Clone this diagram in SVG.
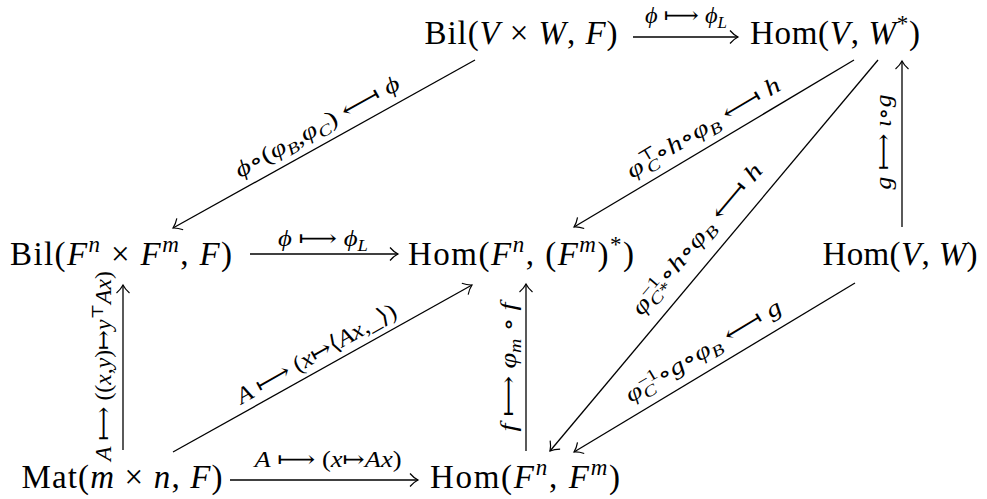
<svg xmlns="http://www.w3.org/2000/svg" width="987" height="499" viewBox="0 0 987 499">
<style>
.n{font-family:"Liberation Serif",serif;font-size:33px;fill:#000;text-anchor:middle}
.l{font-family:"Liberation Serif",serif;font-size:23px;fill:#000;text-anchor:middle}
.y{font-family:"DejaVu Serif","DejaVu Sans",serif;font-style:normal}
.i{font-style:italic}
.s{font-size:23px}
.ss{font-size:16px}
.c line{stroke:#000;stroke-width:1.3;fill:none;marker-end:url(#ah)}
</style>
<defs>
<marker id="ah" markerUnits="userSpaceOnUse" viewBox="-10 -9 12 18" refX="0" refY="0" markerWidth="12" markerHeight="18" orient="auto">
<path d="M-8,-6.5 C-5,-3 -2,-1 0,0 C-2,1 -5,3 -8,6.5" fill="none" stroke="#000" stroke-width="1.2"/>
</marker>
</defs>
<rect width="987" height="499" fill="#fff"/>
<g id="bilVW"><text class="n" x="521" y="44" textLength="193" lengthAdjust="spacing">Bil(<tspan class="i">V</tspan> × <tspan class="i">W</tspan>, <tspan class="i">F</tspan>)</text></g>
<g id="homVWstar"><text class="n" x="835" y="44" textLength="170" lengthAdjust="spacing">Hom(<tspan class="i">V</tspan>, <tspan class="i">W</tspan><tspan class="s" dy="-13">*</tspan><tspan dy="13">)</tspan></text></g>
<g id="bilFnFm"><text class="n" x="121" y="265" textLength="222" lengthAdjust="spacing">Bil(<tspan class="i">F</tspan><tspan class="s i" dy="-13">n</tspan><tspan dy="13"> × </tspan><tspan class="i">F</tspan><tspan class="s i" dy="-13">m</tspan><tspan dy="13">, </tspan><tspan class="i">F</tspan>)</text></g>
<g id="homFnFmstar"><text class="n" x="521" y="265" textLength="226" lengthAdjust="spacing">Hom(<tspan class="i">F</tspan><tspan class="s i" dy="-13">n</tspan><tspan dy="13">, (</tspan><tspan class="i">F</tspan><tspan class="s i" dy="-13">m</tspan><tspan dy="13">)</tspan><tspan class="s" dy="-13">*</tspan><tspan dy="13">)</tspan></text></g>
<g id="homVW"><text class="n" x="900" y="265" textLength="155" lengthAdjust="spacing">Hom(<tspan class="i">V</tspan>, <tspan class="i">W</tspan>)</text></g>
<g id="mat"><text class="n" x="122" y="488" textLength="201" lengthAdjust="spacing">Mat(<tspan class="i">m</tspan> × <tspan class="i">n</tspan>, <tspan class="i">F</tspan>)</text></g>
<g id="homFnFm"><text class="n" x="525" y="488" textLength="190" lengthAdjust="spacing">Hom(<tspan class="i">F</tspan><tspan class="s i" dy="-13">n</tspan><tspan dy="13">, </tspan><tspan class="i">F</tspan><tspan class="s i" dy="-13">m</tspan><tspan dy="13">)</tspan></text></g>
<g id="connectors" class="c">
<line x1="633" y1="37" x2="738" y2="37"/>
<line x1="475" y1="60" x2="173" y2="228"/>
<line x1="854" y1="60" x2="574" y2="227"/>
<line x1="878" y1="60" x2="550" y2="451"/>
<line x1="902" y1="227" x2="902" y2="61"/>
<line x1="250" y1="254" x2="398" y2="254"/>
<line x1="855" y1="283" x2="574" y2="452"/>
<line x1="123" y1="450" x2="123" y2="285"/>
<line x1="173" y1="452" x2="472" y2="285"/>
<line x1="526" y1="451" x2="526" y2="284"/>
<line x1="230" y1="480" x2="418" y2="480"/>
</g>
<g id="labels">
<text class="l" x="686" y="23" textLength="82" lengthAdjust="spacingAndGlyphs"><tspan class="i">ϕ</tspan> <tspan class="y">⟼</tspan> <tspan class="i">ϕ</tspan><tspan class="ss i" dy="5">L</tspan></text>
<text class="l" transform="translate(318,128) rotate(-29.1)" x="0" y="6" textLength="185" lengthAdjust="spacingAndGlyphs"><tspan class="i">ϕ</tspan><tspan class="y">∘</tspan>(<tspan class="i">φ</tspan><tspan class="ss i" dy="5">B</tspan><tspan dy="-5">,</tspan><tspan class="i">φ</tspan><tspan class="ss i" dy="5">C</tspan><tspan dy="-5">) </tspan><tspan class="y">⟻</tspan> <tspan class="i">ϕ</tspan></text>
<text class="l" transform="translate(704,129) rotate(-30.8)" x="0" y="6" textLength="175" lengthAdjust="spacingAndGlyphs"><tspan class="i">φ</tspan><tspan class="ss y" dy="-8">⊤</tspan><tspan class="ss i" dx="-13" dy="13">C</tspan><tspan class="y" dy="-5">∘</tspan><tspan class="i">h</tspan><tspan class="y">∘</tspan><tspan class="i">φ</tspan><tspan class="ss i" dy="5">B</tspan><tspan dy="-5"> </tspan><tspan class="y">⟻</tspan> <tspan class="i">h</tspan></text>
<text class="l" transform="translate(698,240) rotate(-50)" x="0" y="6" textLength="190" lengthAdjust="spacingAndGlyphs"><tspan class="i">φ</tspan><tspan class="ss" dy="-8">−1</tspan><tspan class="ss i" dx="-17" dy="13">C*</tspan><tspan class="y" dy="-5">∘</tspan><tspan class="i">h</tspan><tspan class="y">∘</tspan><tspan class="i">φ</tspan><tspan class="ss i" dy="5">B</tspan><tspan dy="-5"> </tspan><tspan class="y">⟻</tspan> <tspan class="i">h</tspan></text>
<text class="l" transform="translate(885,142) rotate(-90)" x="0" y="6" textLength="95" lengthAdjust="spacingAndGlyphs"><tspan class="i">g</tspan> <tspan class="y">⟼</tspan> <tspan class="i">ι</tspan><tspan class="y">∘</tspan><tspan class="i">g</tspan></text>
<text class="l" x="323" y="246" textLength="90" lengthAdjust="spacingAndGlyphs"><tspan class="i">ϕ</tspan> <tspan class="y">⟼</tspan> <tspan class="i">ϕ</tspan><tspan class="ss i" dy="5">L</tspan></text>
<text class="l" transform="translate(704,352) rotate(-31)" x="0" y="6" textLength="178" lengthAdjust="spacingAndGlyphs"><tspan class="i">φ</tspan><tspan class="ss" dy="-8">−1</tspan><tspan class="ss i" dx="-17" dy="13">C</tspan><tspan dy="-5"> </tspan><tspan class="y">∘</tspan><tspan class="i">g</tspan><tspan class="y">∘</tspan><tspan class="i">φ</tspan><tspan class="ss i" dy="5">B</tspan><tspan dy="-5"> </tspan><tspan class="y">⟻</tspan> <tspan class="i">g</tspan></text>
<text class="l" transform="translate(105,366) rotate(-90)" x="0" y="6" textLength="190" lengthAdjust="spacingAndGlyphs"><tspan class="i">A</tspan> <tspan class="y">⟼</tspan> ((<tspan class="i">x</tspan>,<tspan class="i">y</tspan>)<tspan class="y">↦</tspan><tspan class="i">y</tspan><tspan class="ss y" dy="-8">⊤</tspan><tspan class="i" dy="8">Ax</tspan>)</text>
<text class="l" transform="translate(317,355) rotate(-29.5)" x="0" y="6" textLength="180" lengthAdjust="spacingAndGlyphs"><tspan class="i">A</tspan> <tspan class="y">⟼</tspan> (<tspan class="i">x</tspan><tspan class="y">↦⟨</tspan><tspan class="i">Ax</tspan>,_<tspan class="y">⟩</tspan>)</text>
<text class="l" transform="translate(510,367) rotate(-90)" x="0" y="6" textLength="129" lengthAdjust="spacingAndGlyphs"><tspan class="i">f</tspan> <tspan class="y">⟼</tspan> <tspan class="i">φ</tspan><tspan class="ss i" dy="5">m</tspan><tspan dy="-5"> </tspan><tspan class="y">∘</tspan> <tspan class="i">f</tspan></text>
<text class="l" x="328" y="467" textLength="147" lengthAdjust="spacingAndGlyphs"><tspan class="i">A</tspan> <tspan class="y">⟼</tspan> (<tspan class="i">x</tspan><tspan class="y">↦</tspan><tspan class="i">Ax</tspan>)</text>
</g>
</svg>
